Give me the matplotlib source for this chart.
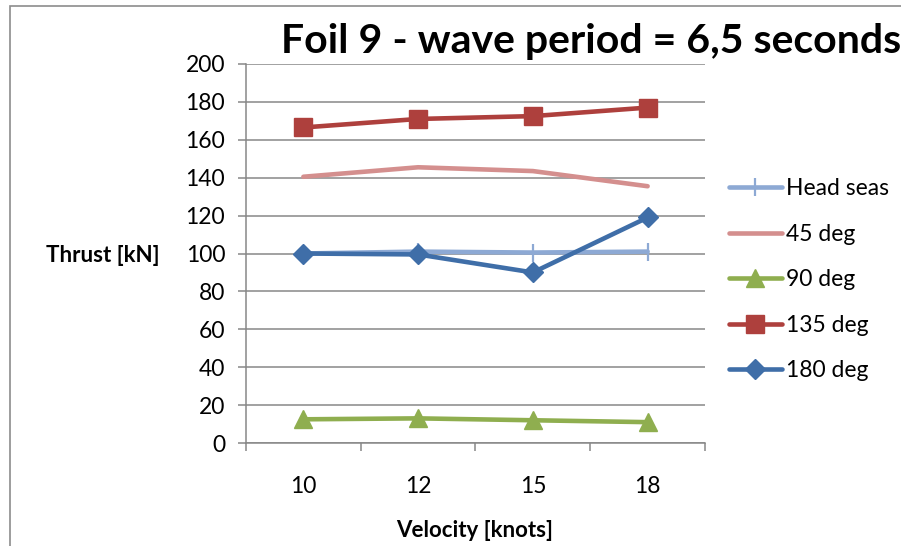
import numpy as np
import matplotlib
matplotlib.use("Agg")
import matplotlib.pyplot as plt
import matplotlib.patches as patches

plt.rcParams["font.family"] = ["Lato", "DejaVu Sans"]

velocities = ["10", "12", "15", "18"]
head_seas = [100, 101, 100.5, 101]
deg_45 = [140.5, 145.5, 143.5, 135.5]
deg_90 = [12.5, 13, 12, 11]
deg_135 = [166.5, 171, 172.5, 177]
deg_180 = [100, 99.5, 90, 119]

series = [
    ("Head seas", head_seas, "#8DA9D4", "|"),
    ("45 deg", deg_45, "#D48F8E", None),
    ("90 deg", deg_90, "#8FAE4F", "^"),
    ("135 deg", deg_135, "#AE403D", "s"),
    ("180 deg", deg_180, "#3F6EA8", "D"),
]

W, H = 901, 546
fig = plt.figure(figsize=(W / 100, H / 100), dpi=100)
ax = fig.add_axes([246 / W, (H - 443) / H, (705 - 246) / W, (443 - 64) / H])

# outer chart frame (runs off the right and bottom edge)
fig.patches.append(patches.Rectangle((10 / W, -0.2), 1.2, 1.2 - 6 / H,
                                     transform=fig.transFigure, fill=False,
                                     edgecolor="#8c8c8c", lw=1.2))

x = np.arange(len(velocities))
for name, vals, col, mk in series:
    kw = dict(color=col, lw=3.3, label=name, solid_capstyle="round",
              solid_joinstyle="round")
    if mk == "|":
        kw.update(marker="|", markersize=13, markeredgewidth=1.6)
    elif mk == "^":
        kw.update(marker="^", markersize=13)
    elif mk == "s":
        kw.update(marker="s", markersize=12.5)
    elif mk == "D":
        kw.update(marker="D", markersize=10.5)
    ax.plot(x, vals, **kw)

ax.set_ylim(0, 200)
ax.set_yticks(np.arange(0, 201, 20))
ax.set_xlim(-0.5, len(velocities) - 0.5)
ax.set_xticks(np.arange(-0.5, len(velocities), 1.0))
ax.set_xticklabels([])
ax.set_xticks(x, minor=True)
ax.set_xticklabels(velocities, minor=True)

grid_c = "#878787"
ax.grid(axis="y", color=grid_c, lw=1.1)
ax.set_axisbelow(True)
for s in ["top", "right"]:
    ax.spines[s].set_visible(False)
for s in ["left", "bottom"]:
    ax.spines[s].set_color(grid_c)
    ax.spines[s].set_linewidth(1.1)
ax.tick_params(axis="y", which="major", length=6, width=1.1, color=grid_c,
               labelsize=16.5, pad=9)
ax.tick_params(axis="x", which="major", length=6, width=1.1, color=grid_c)
ax.tick_params(axis="x", which="minor", length=0, labelsize=16.5, pad=24)

ax.set_ylabel("Thrust [kN]", rotation=0, fontsize=16, fontweight="bold",
              ha="center", va="center")
ax.yaxis.set_label_coords(-0.312, 0.496)
ax.set_xlabel("Velocity [knots]", fontsize=16, fontweight="bold",
              ha="center", va="center")
ax.xaxis.set_label_coords(0.499, -0.23)

fig.text(281 / W, 1 - 53 / H, "Foil 9 - wave period = 6,5 seconds",
         fontsize=29.5, fontweight="bold", va="baseline", ha="left")

fig.legend(loc="upper left", bbox_to_anchor=(729 / W, 1 - 178 / H),
           frameon=False, fontsize=16.5, handlelength=2.3, handletextpad=0.2,
           labelspacing=1.07, borderpad=0, borderaxespad=0)

fig.savefig("out.png", dpi=100)
